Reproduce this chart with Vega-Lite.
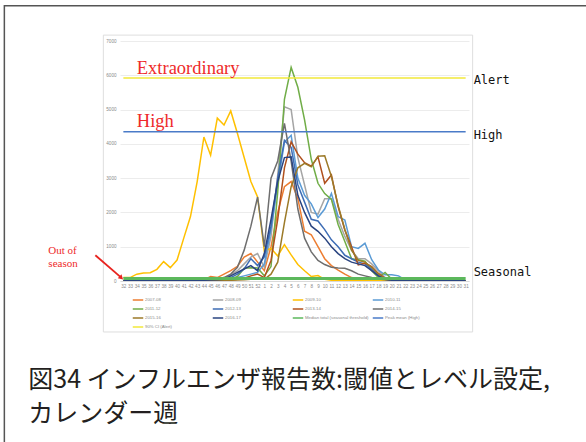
{
"$schema": "https://vega.github.io/schema/vega-lite/v6.json",
"autosize": {"type": "none"},
"width": 349, "height": 240,
"padding": {"left": 120, "top": 41, "right": 117, "bottom": 161},
"background": "white",
"config": {"view": {"stroke": null}},
"datasets": {
"seasons": [
{"s":"2007-08","w":32,"v":10},{"s":"2007-08","w":33,"v":10},{"s":"2007-08","w":34,"v":10},{"s":"2007-08","w":35,"v":10},{"s":"2007-08","w":36,"v":10},{"s":"2007-08","w":37,"v":10},{"s":"2007-08","w":38,"v":10},{"s":"2007-08","w":39,"v":10},{"s":"2007-08","w":40,"v":10},{"s":"2007-08","w":41,"v":10},{"s":"2007-08","w":42,"v":15},{"s":"2007-08","w":43,"v":20},{"s":"2007-08","w":44,"v":30},{"s":"2007-08","w":45,"v":130},{"s":"2007-08","w":46,"v":100},{"s":"2007-08","w":47,"v":200},{"s":"2007-08","w":48,"v":300},{"s":"2007-08","w":49,"v":430},{"s":"2007-08","w":50,"v":700},{"s":"2007-08","w":51,"v":800},{"s":"2007-08","w":52,"v":550},{"s":"2007-08","w":1,"v":300},{"s":"2007-08","w":2,"v":1000},{"s":"2007-08","w":3,"v":2000},{"s":"2007-08","w":4,"v":2750},{"s":"2007-08","w":5,"v":2900},{"s":"2007-08","w":6,"v":2400},{"s":"2007-08","w":7,"v":1450},{"s":"2007-08","w":8,"v":1350},{"s":"2007-08","w":9,"v":1000},{"s":"2007-08","w":10,"v":650},{"s":"2007-08","w":11,"v":450},{"s":"2007-08","w":12,"v":320},{"s":"2007-08","w":13,"v":200},{"s":"2007-08","w":14,"v":100},{"s":"2007-08","w":15,"v":60},{"s":"2007-08","w":16,"v":40},{"s":"2007-08","w":17,"v":30},{"s":"2007-08","w":18,"v":20},{"s":"2007-08","w":19,"v":15},{"s":"2007-08","w":20,"v":10},{"s":"2007-08","w":21,"v":10},{"s":"2007-08","w":22,"v":10},{"s":"2007-08","w":23,"v":10},{"s":"2007-08","w":24,"v":10},{"s":"2007-08","w":25,"v":10},{"s":"2007-08","w":26,"v":10},{"s":"2007-08","w":27,"v":10},{"s":"2007-08","w":28,"v":10},{"s":"2007-08","w":29,"v":10},{"s":"2007-08","w":30,"v":10},{"s":"2007-08","w":31,"v":10},
{"s":"2008-09","w":32,"v":10},{"s":"2008-09","w":33,"v":10},{"s":"2008-09","w":34,"v":10},{"s":"2008-09","w":35,"v":10},{"s":"2008-09","w":36,"v":10},{"s":"2008-09","w":37,"v":10},{"s":"2008-09","w":38,"v":10},{"s":"2008-09","w":39,"v":10},{"s":"2008-09","w":40,"v":10},{"s":"2008-09","w":41,"v":10},{"s":"2008-09","w":42,"v":10},{"s":"2008-09","w":43,"v":10},{"s":"2008-09","w":44,"v":20},{"s":"2008-09","w":45,"v":30},{"s":"2008-09","w":46,"v":60},{"s":"2008-09","w":47,"v":100},{"s":"2008-09","w":48,"v":180},{"s":"2008-09","w":49,"v":300},{"s":"2008-09","w":50,"v":500},{"s":"2008-09","w":51,"v":700},{"s":"2008-09","w":52,"v":800},{"s":"2008-09","w":1,"v":400},{"s":"2008-09","w":2,"v":1300},{"s":"2008-09","w":3,"v":3100},{"s":"2008-09","w":4,"v":5080},{"s":"2008-09","w":5,"v":5000},{"s":"2008-09","w":6,"v":3600},{"s":"2008-09","w":7,"v":2800},{"s":"2008-09","w":8,"v":2000},{"s":"2008-09","w":9,"v":1950},{"s":"2008-09","w":10,"v":2400},{"s":"2008-09","w":11,"v":2400},{"s":"2008-09","w":12,"v":1800},{"s":"2008-09","w":13,"v":1300},{"s":"2008-09","w":14,"v":900},{"s":"2008-09","w":15,"v":650},{"s":"2008-09","w":16,"v":650},{"s":"2008-09","w":17,"v":500},{"s":"2008-09","w":18,"v":300},{"s":"2008-09","w":19,"v":100},{"s":"2008-09","w":20,"v":50},{"s":"2008-09","w":21,"v":20},{"s":"2008-09","w":22,"v":10},{"s":"2008-09","w":23,"v":10},{"s":"2008-09","w":24,"v":10},{"s":"2008-09","w":25,"v":10},{"s":"2008-09","w":26,"v":10},{"s":"2008-09","w":27,"v":10},{"s":"2008-09","w":28,"v":10},{"s":"2008-09","w":29,"v":10},{"s":"2008-09","w":30,"v":10},{"s":"2008-09","w":31,"v":10},
{"s":"2009-10","w":32,"v":100},{"s":"2009-10","w":33,"v":100},{"s":"2009-10","w":34,"v":200},{"s":"2009-10","w":35,"v":230},{"s":"2009-10","w":36,"v":240},{"s":"2009-10","w":37,"v":340},{"s":"2009-10","w":38,"v":565},{"s":"2009-10","w":39,"v":390},{"s":"2009-10","w":40,"v":610},{"s":"2009-10","w":41,"v":1250},{"s":"2009-10","w":42,"v":1880},{"s":"2009-10","w":43,"v":2900},{"s":"2009-10","w":44,"v":4200},{"s":"2009-10","w":45,"v":3670},{"s":"2009-10","w":46,"v":4750},{"s":"2009-10","w":47,"v":4550},{"s":"2009-10","w":48,"v":4960},{"s":"2009-10","w":49,"v":4300},{"s":"2009-10","w":50,"v":3600},{"s":"2009-10","w":51,"v":2900},{"s":"2009-10","w":52,"v":2450},{"s":"2009-10","w":1,"v":870},{"s":"2009-10","w":2,"v":950},{"s":"2009-10","w":3,"v":730},{"s":"2009-10","w":4,"v":1060},{"s":"2009-10","w":5,"v":760},{"s":"2009-10","w":6,"v":480},{"s":"2009-10","w":7,"v":300},{"s":"2009-10","w":8,"v":130},{"s":"2009-10","w":9,"v":160},{"s":"2009-10","w":10,"v":50},{"s":"2009-10","w":11,"v":20},{"s":"2009-10","w":12,"v":10},{"s":"2009-10","w":13,"v":10},{"s":"2009-10","w":14,"v":10},{"s":"2009-10","w":15,"v":10},{"s":"2009-10","w":16,"v":10},{"s":"2009-10","w":17,"v":10},{"s":"2009-10","w":18,"v":10},{"s":"2009-10","w":19,"v":10},{"s":"2009-10","w":20,"v":10},{"s":"2009-10","w":21,"v":10},{"s":"2009-10","w":22,"v":10},{"s":"2009-10","w":23,"v":10},{"s":"2009-10","w":24,"v":10},{"s":"2009-10","w":25,"v":10},{"s":"2009-10","w":26,"v":10},{"s":"2009-10","w":27,"v":10},{"s":"2009-10","w":28,"v":10},{"s":"2009-10","w":29,"v":10},{"s":"2009-10","w":30,"v":10},{"s":"2009-10","w":31,"v":10},
{"s":"2010-11","w":32,"v":10},{"s":"2010-11","w":33,"v":10},{"s":"2010-11","w":34,"v":10},{"s":"2010-11","w":35,"v":10},{"s":"2010-11","w":36,"v":10},{"s":"2010-11","w":37,"v":10},{"s":"2010-11","w":38,"v":10},{"s":"2010-11","w":39,"v":10},{"s":"2010-11","w":40,"v":10},{"s":"2010-11","w":41,"v":10},{"s":"2010-11","w":42,"v":10},{"s":"2010-11","w":43,"v":10},{"s":"2010-11","w":44,"v":10},{"s":"2010-11","w":45,"v":20},{"s":"2010-11","w":46,"v":30},{"s":"2010-11","w":47,"v":40},{"s":"2010-11","w":48,"v":50},{"s":"2010-11","w":49,"v":100},{"s":"2010-11","w":50,"v":150},{"s":"2010-11","w":51,"v":200},{"s":"2010-11","w":52,"v":250},{"s":"2010-11","w":1,"v":500},{"s":"2010-11","w":2,"v":1500},{"s":"2010-11","w":3,"v":2800},{"s":"2010-11","w":4,"v":4050},{"s":"2010-11","w":5,"v":4250},{"s":"2010-11","w":6,"v":3000},{"s":"2010-11","w":7,"v":2500},{"s":"2010-11","w":8,"v":2250},{"s":"2010-11","w":9,"v":1850},{"s":"2010-11","w":10,"v":2100},{"s":"2010-11","w":11,"v":2550},{"s":"2010-11","w":12,"v":1880},{"s":"2010-11","w":13,"v":1780},{"s":"2010-11","w":14,"v":1000},{"s":"2010-11","w":15,"v":950},{"s":"2010-11","w":16,"v":1100},{"s":"2010-11","w":17,"v":620},{"s":"2010-11","w":18,"v":320},{"s":"2010-11","w":19,"v":180},{"s":"2010-11","w":20,"v":180},{"s":"2010-11","w":21,"v":150},{"s":"2010-11","w":22,"v":30},{"s":"2010-11","w":23,"v":10},{"s":"2010-11","w":24,"v":10},{"s":"2010-11","w":25,"v":10},{"s":"2010-11","w":26,"v":10},{"s":"2010-11","w":27,"v":10},{"s":"2010-11","w":28,"v":10},{"s":"2010-11","w":29,"v":10},{"s":"2010-11","w":30,"v":10},{"s":"2010-11","w":31,"v":10},
{"s":"2011-12","w":32,"v":10},{"s":"2011-12","w":33,"v":10},{"s":"2011-12","w":34,"v":10},{"s":"2011-12","w":35,"v":10},{"s":"2011-12","w":36,"v":10},{"s":"2011-12","w":37,"v":10},{"s":"2011-12","w":38,"v":10},{"s":"2011-12","w":39,"v":10},{"s":"2011-12","w":40,"v":10},{"s":"2011-12","w":41,"v":10},{"s":"2011-12","w":42,"v":10},{"s":"2011-12","w":43,"v":10},{"s":"2011-12","w":44,"v":10},{"s":"2011-12","w":45,"v":10},{"s":"2011-12","w":46,"v":20},{"s":"2011-12","w":47,"v":40},{"s":"2011-12","w":48,"v":60},{"s":"2011-12","w":49,"v":130},{"s":"2011-12","w":50,"v":370},{"s":"2011-12","w":51,"v":390},{"s":"2011-12","w":52,"v":380},{"s":"2011-12","w":1,"v":150},{"s":"2011-12","w":2,"v":420},{"s":"2011-12","w":3,"v":2600},{"s":"2011-12","w":4,"v":5300},{"s":"2011-12","w":5,"v":6230},{"s":"2011-12","w":6,"v":5650},{"s":"2011-12","w":7,"v":4700},{"s":"2011-12","w":8,"v":3550},{"s":"2011-12","w":9,"v":2850},{"s":"2011-12","w":10,"v":2550},{"s":"2011-12","w":11,"v":2380},{"s":"2011-12","w":12,"v":1650},{"s":"2011-12","w":13,"v":1150},{"s":"2011-12","w":14,"v":650},{"s":"2011-12","w":15,"v":620},{"s":"2011-12","w":16,"v":580},{"s":"2011-12","w":17,"v":300},{"s":"2011-12","w":18,"v":100},{"s":"2011-12","w":19,"v":250},{"s":"2011-12","w":20,"v":50},{"s":"2011-12","w":21,"v":20},{"s":"2011-12","w":22,"v":10},{"s":"2011-12","w":23,"v":10},{"s":"2011-12","w":24,"v":10},{"s":"2011-12","w":25,"v":10},{"s":"2011-12","w":26,"v":10},{"s":"2011-12","w":27,"v":10},{"s":"2011-12","w":28,"v":10},{"s":"2011-12","w":29,"v":10},{"s":"2011-12","w":30,"v":10},{"s":"2011-12","w":31,"v":10},
{"s":"2012-13","w":32,"v":10},{"s":"2012-13","w":33,"v":10},{"s":"2012-13","w":34,"v":10},{"s":"2012-13","w":35,"v":10},{"s":"2012-13","w":36,"v":10},{"s":"2012-13","w":37,"v":10},{"s":"2012-13","w":38,"v":10},{"s":"2012-13","w":39,"v":10},{"s":"2012-13","w":40,"v":10},{"s":"2012-13","w":41,"v":10},{"s":"2012-13","w":42,"v":10},{"s":"2012-13","w":43,"v":10},{"s":"2012-13","w":44,"v":20},{"s":"2012-13","w":45,"v":30},{"s":"2012-13","w":46,"v":50},{"s":"2012-13","w":47,"v":70},{"s":"2012-13","w":48,"v":100},{"s":"2012-13","w":49,"v":200},{"s":"2012-13","w":50,"v":350},{"s":"2012-13","w":51,"v":650},{"s":"2012-13","w":52,"v":450},{"s":"2012-13","w":1,"v":700},{"s":"2012-13","w":2,"v":1600},{"s":"2012-13","w":3,"v":3000},{"s":"2012-13","w":4,"v":4100},{"s":"2012-13","w":5,"v":3900},{"s":"2012-13","w":6,"v":2800},{"s":"2012-13","w":7,"v":2300},{"s":"2012-13","w":8,"v":1800},{"s":"2012-13","w":9,"v":1750},{"s":"2012-13","w":10,"v":1500},{"s":"2012-13","w":11,"v":1200},{"s":"2012-13","w":12,"v":1000},{"s":"2012-13","w":13,"v":750},{"s":"2012-13","w":14,"v":650},{"s":"2012-13","w":15,"v":550},{"s":"2012-13","w":16,"v":500},{"s":"2012-13","w":17,"v":350},{"s":"2012-13","w":18,"v":150},{"s":"2012-13","w":19,"v":60},{"s":"2012-13","w":20,"v":30},{"s":"2012-13","w":21,"v":10},{"s":"2012-13","w":22,"v":10},{"s":"2012-13","w":23,"v":10},{"s":"2012-13","w":24,"v":10},{"s":"2012-13","w":25,"v":10},{"s":"2012-13","w":26,"v":10},{"s":"2012-13","w":27,"v":10},{"s":"2012-13","w":28,"v":10},{"s":"2012-13","w":29,"v":10},{"s":"2012-13","w":30,"v":10},{"s":"2012-13","w":31,"v":10},
{"s":"2013-14","w":32,"v":10},{"s":"2013-14","w":33,"v":10},{"s":"2013-14","w":34,"v":10},{"s":"2013-14","w":35,"v":10},{"s":"2013-14","w":36,"v":10},{"s":"2013-14","w":37,"v":10},{"s":"2013-14","w":38,"v":10},{"s":"2013-14","w":39,"v":10},{"s":"2013-14","w":40,"v":10},{"s":"2013-14","w":41,"v":10},{"s":"2013-14","w":42,"v":10},{"s":"2013-14","w":43,"v":10},{"s":"2013-14","w":44,"v":10},{"s":"2013-14","w":45,"v":10},{"s":"2013-14","w":46,"v":15},{"s":"2013-14","w":47,"v":20},{"s":"2013-14","w":48,"v":30},{"s":"2013-14","w":49,"v":50},{"s":"2013-14","w":50,"v":80},{"s":"2013-14","w":51,"v":150},{"s":"2013-14","w":52,"v":200},{"s":"2013-14","w":1,"v":100},{"s":"2013-14","w":2,"v":600},{"s":"2013-14","w":3,"v":1800},{"s":"2013-14","w":4,"v":3300},{"s":"2013-14","w":5,"v":4060},{"s":"2013-14","w":6,"v":3700},{"s":"2013-14","w":7,"v":3450},{"s":"2013-14","w":8,"v":3350},{"s":"2013-14","w":9,"v":3620},{"s":"2013-14","w":10,"v":2850},{"s":"2013-14","w":11,"v":3090},{"s":"2013-14","w":12,"v":2170},{"s":"2013-14","w":13,"v":1490},{"s":"2013-14","w":14,"v":1000},{"s":"2013-14","w":15,"v":470},{"s":"2013-14","w":16,"v":520},{"s":"2013-14","w":17,"v":420},{"s":"2013-14","w":18,"v":220},{"s":"2013-14","w":19,"v":80},{"s":"2013-14","w":20,"v":30},{"s":"2013-14","w":21,"v":10},{"s":"2013-14","w":22,"v":10},{"s":"2013-14","w":23,"v":10},{"s":"2013-14","w":24,"v":10},{"s":"2013-14","w":25,"v":10},{"s":"2013-14","w":26,"v":10},{"s":"2013-14","w":27,"v":10},{"s":"2013-14","w":28,"v":10},{"s":"2013-14","w":29,"v":10},{"s":"2013-14","w":30,"v":10},{"s":"2013-14","w":31,"v":10},
{"s":"2014-15","w":32,"v":10},{"s":"2014-15","w":33,"v":10},{"s":"2014-15","w":34,"v":10},{"s":"2014-15","w":35,"v":10},{"s":"2014-15","w":36,"v":10},{"s":"2014-15","w":37,"v":10},{"s":"2014-15","w":38,"v":10},{"s":"2014-15","w":39,"v":10},{"s":"2014-15","w":40,"v":10},{"s":"2014-15","w":41,"v":10},{"s":"2014-15","w":42,"v":10},{"s":"2014-15","w":43,"v":10},{"s":"2014-15","w":44,"v":20},{"s":"2014-15","w":45,"v":30},{"s":"2014-15","w":46,"v":50},{"s":"2014-15","w":47,"v":100},{"s":"2014-15","w":48,"v":200},{"s":"2014-15","w":49,"v":400},{"s":"2014-15","w":50,"v":900},{"s":"2014-15","w":51,"v":1600},{"s":"2014-15","w":52,"v":2450},{"s":"2014-15","w":1,"v":1000},{"s":"2014-15","w":2,"v":3000},{"s":"2014-15","w":3,"v":3500},{"s":"2014-15","w":4,"v":4600},{"s":"2014-15","w":5,"v":3500},{"s":"2014-15","w":6,"v":2100},{"s":"2014-15","w":7,"v":1250},{"s":"2014-15","w":8,"v":850},{"s":"2014-15","w":9,"v":600},{"s":"2014-15","w":10,"v":480},{"s":"2014-15","w":11,"v":400},{"s":"2014-15","w":12,"v":380},{"s":"2014-15","w":13,"v":370},{"s":"2014-15","w":14,"v":300},{"s":"2014-15","w":15,"v":200},{"s":"2014-15","w":16,"v":150},{"s":"2014-15","w":17,"v":100},{"s":"2014-15","w":18,"v":60},{"s":"2014-15","w":19,"v":40},{"s":"2014-15","w":20,"v":20},{"s":"2014-15","w":21,"v":10},{"s":"2014-15","w":22,"v":10},{"s":"2014-15","w":23,"v":10},{"s":"2014-15","w":24,"v":10},{"s":"2014-15","w":25,"v":10},{"s":"2014-15","w":26,"v":10},{"s":"2014-15","w":27,"v":10},{"s":"2014-15","w":28,"v":10},{"s":"2014-15","w":29,"v":10},{"s":"2014-15","w":30,"v":10},{"s":"2014-15","w":31,"v":10},
{"s":"2015-16","w":32,"v":10},{"s":"2015-16","w":33,"v":10},{"s":"2015-16","w":34,"v":10},{"s":"2015-16","w":35,"v":10},{"s":"2015-16","w":36,"v":10},{"s":"2015-16","w":37,"v":10},{"s":"2015-16","w":38,"v":10},{"s":"2015-16","w":39,"v":10},{"s":"2015-16","w":40,"v":10},{"s":"2015-16","w":41,"v":10},{"s":"2015-16","w":42,"v":10},{"s":"2015-16","w":43,"v":10},{"s":"2015-16","w":44,"v":10},{"s":"2015-16","w":45,"v":10},{"s":"2015-16","w":46,"v":10},{"s":"2015-16","w":47,"v":15},{"s":"2015-16","w":48,"v":20},{"s":"2015-16","w":49,"v":30},{"s":"2015-16","w":50,"v":40},{"s":"2015-16","w":51,"v":50},{"s":"2015-16","w":52,"v":50},{"s":"2015-16","w":1,"v":50},{"s":"2015-16","w":2,"v":200},{"s":"2015-16","w":3,"v":550},{"s":"2015-16","w":4,"v":1700},{"s":"2015-16","w":5,"v":2750},{"s":"2015-16","w":6,"v":3300},{"s":"2015-16","w":7,"v":3430},{"s":"2015-16","w":8,"v":3330},{"s":"2015-16","w":9,"v":3640},{"s":"2015-16","w":10,"v":3650},{"s":"2015-16","w":11,"v":3050},{"s":"2015-16","w":12,"v":2200},{"s":"2015-16","w":13,"v":1500},{"s":"2015-16","w":14,"v":900},{"s":"2015-16","w":15,"v":600},{"s":"2015-16","w":16,"v":550},{"s":"2015-16","w":17,"v":400},{"s":"2015-16","w":18,"v":200},{"s":"2015-16","w":19,"v":50},{"s":"2015-16","w":20,"v":20},{"s":"2015-16","w":21,"v":10},{"s":"2015-16","w":22,"v":10},{"s":"2015-16","w":23,"v":10},{"s":"2015-16","w":24,"v":10},{"s":"2015-16","w":25,"v":10},{"s":"2015-16","w":26,"v":10},{"s":"2015-16","w":27,"v":10},{"s":"2015-16","w":28,"v":10},{"s":"2015-16","w":29,"v":10},{"s":"2015-16","w":30,"v":10},{"s":"2015-16","w":31,"v":10},
{"s":"2016-17","w":32,"v":10},{"s":"2016-17","w":33,"v":10},{"s":"2016-17","w":34,"v":10},{"s":"2016-17","w":35,"v":10},{"s":"2016-17","w":36,"v":10},{"s":"2016-17","w":37,"v":10},{"s":"2016-17","w":38,"v":10},{"s":"2016-17","w":39,"v":10},{"s":"2016-17","w":40,"v":10},{"s":"2016-17","w":41,"v":10},{"s":"2016-17","w":42,"v":10},{"s":"2016-17","w":43,"v":10},{"s":"2016-17","w":44,"v":20},{"s":"2016-17","w":45,"v":30},{"s":"2016-17","w":46,"v":40},{"s":"2016-17","w":47,"v":50},{"s":"2016-17","w":48,"v":150},{"s":"2016-17","w":49,"v":250},{"s":"2016-17","w":50,"v":350},{"s":"2016-17","w":51,"v":450},{"s":"2016-17","w":52,"v":300},{"s":"2016-17","w":1,"v":800},{"s":"2016-17","w":2,"v":1800},{"s":"2016-17","w":3,"v":2900},{"s":"2016-17","w":4,"v":3600},{"s":"2016-17","w":5,"v":3620},{"s":"2016-17","w":6,"v":2500},{"s":"2016-17","w":7,"v":2000},{"s":"2016-17","w":8,"v":1600},{"s":"2016-17","w":9,"v":1450},{"s":"2016-17","w":10,"v":1250},{"s":"2016-17","w":11,"v":1000},{"s":"2016-17","w":12,"v":800},{"s":"2016-17","w":13,"v":650},{"s":"2016-17","w":14,"v":550},{"s":"2016-17","w":15,"v":500},{"s":"2016-17","w":16,"v":450},{"s":"2016-17","w":17,"v":300},{"s":"2016-17","w":18,"v":150},{"s":"2016-17","w":19,"v":50},{"s":"2016-17","w":20,"v":20},{"s":"2016-17","w":21,"v":10},{"s":"2016-17","w":22,"v":10},{"s":"2016-17","w":23,"v":10},{"s":"2016-17","w":24,"v":10},{"s":"2016-17","w":25,"v":10},{"s":"2016-17","w":26,"v":10},{"s":"2016-17","w":27,"v":10},{"s":"2016-17","w":28,"v":10},{"s":"2016-17","w":29,"v":10},{"s":"2016-17","w":30,"v":10},{"s":"2016-17","w":31,"v":10}
],
"thresholds": [
{"s":"Peak mean (High)","v":4350},
{"s":"90% CI (Alert)","v":5920}
],
"median": [
{"s":"Median total (seasonal threshold)","v":70}
],
"levelLabels": [
{"t":"Alert","w":31,"v":5850},
{"t":"High","w":31,"v":4270},
{"t":"Seasonal","w":31,"v":270}
],
"redLabels": [
{"t":"Extraordinary","w":34,"v":6026},
{"t":"High","w":34,"v":4500}
],
"outLabel": [
{"t":["Out of","season"],"w":32,"v":787}
],
"caption": [
{"t":"図34 インフルエンザ報告数:閾値とレベル設定,","w":32,"v":-2530},
{"t":"カレンダー週","w":32,"v":-3540}
]
},
"encoding": {
"x": {"field": "w", "type": "ordinal", "scale": {"type": "point", "padding": 0.5, "domain": [32,33,34,35,36,37,38,39,40,41,42,43,44,45,46,47,48,49,50,51,52,1,2,3,4,5,6,7,8,9,10,11,12,13,14,15,16,17,18,19,20,21,22,23,24,25,26,27,28,29,30,31]},
  "axis": {"title": null, "labelAngle": 0, "labelFontSize": 4.6, "labelColor": "#8a8a8a", "labelOverlap": false, "labelPadding": 2, "ticks": false, "domainColor": "#d9d9d9", "grid": false}},
"y": {"field": "v", "type": "quantitative", "scale": {"domain": [0, 7000]},
  "axis": {"title": null, "values": [0,1000,2000,3000,4000,5000,6000,7000], "format": "d", "labelFontSize": 4.6, "labelColor": "#8a8a8a", "labelPadding": 4, "ticks": false, "domain": false, "gridColor": "#ececec", "gridWidth": 1}}
},
"layer": [
{"data": {"name": "median"}, "mark": {"type": "rect", "filled": false, "stroke": "#dedede", "strokeWidth": 1, "xOffset": -20, "x2Offset": 7},
 "encoding": {"x": {"datum": 32}, "x2": {"datum": 31}, "y": {"datum": 7172}, "y2": {"datum": -1487}}},
{"data": {"name": "median"}, "mark": {"type": "rect", "filled": false, "stroke": "#555555", "strokeWidth": 1.5, "xOffset": -119, "x2Offset": 140},
 "encoding": {"x": {"datum": 32}, "x2": {"datum": 31}, "y": {"datum": 8030}, "y2": {"datum": -6000}}},
{"data": {"name": "seasons"}, "mark": {"type": "line", "strokeWidth": 1.5},
 "encoding": {"color": {"field": "s", "type": "nominal", "sort": null,
   "scale": {"domain": ["2007-08","2008-09","2009-10","2010-11","2011-12","2012-13","2013-14","2014-15","2015-16","2016-17","Median total (seasonal threshold)","Peak mean (High)","90% CI (Alert)"],
     "range": ["#ED7D31","#A5A5A5","#FFC000","#5B9BD5","#70AD47","#3E6DB5","#B0501D","#6E6E6E","#9C7A28","#2A4480","#5CB85C","#4A7BC8","#F2E93A"]},
   "legend": {"title": null, "orient": "none", "direction": "horizontal", "legendX": 12, "legendY": 253, "columns": 4, "gridAlign": "all", "values": ["2007-08","2008-09","2009-10","2010-11","2011-12","2012-13","2013-14","2014-15","2015-16","2016-17","Median total (seasonal threshold)","Peak mean (High)","90% CI (Alert)"], "symbolType": "stroke", "symbolSize": 110, "symbolStrokeWidth": 1.5, "labelFontSize": 4.3, "labelColor": "#8a8a8a", "labelOffset": 1, "labelLimit": 68, "columnPadding": 0, "rowPadding": -1, "padding": 0}}}},
{"data": {"name": "median"}, "mark": {"type": "rule", "strokeWidth": 3},
 "encoding": {"x": {"datum": 32}, "x2": {"datum": 31}, "color": {"field": "s", "type": "nominal", "sort": null,
   "scale": {"domain": ["2007-08","2008-09","2009-10","2010-11","2011-12","2012-13","2013-14","2014-15","2015-16","2016-17","Median total (seasonal threshold)","Peak mean (High)","90% CI (Alert)"],
     "range": ["#ED7D31","#A5A5A5","#FFC000","#5B9BD5","#70AD47","#3E6DB5","#B0501D","#6E6E6E","#9C7A28","#2A4480","#5CB85C","#4A7BC8","#F2E93A"]}}}},
{"data": {"name": "thresholds"}, "mark": {"type": "rule", "strokeWidth": 1.5},
 "encoding": {"x": {"datum": 32}, "x2": {"datum": 31}, "color": {"field": "s", "type": "nominal", "sort": null,
   "scale": {"domain": ["2007-08","2008-09","2009-10","2010-11","2011-12","2012-13","2013-14","2014-15","2015-16","2016-17","Median total (seasonal threshold)","Peak mean (High)","90% CI (Alert)"],
     "range": ["#ED7D31","#A5A5A5","#FFC000","#5B9BD5","#70AD47","#3E6DB5","#B0501D","#6E6E6E","#9C7A28","#2A4480","#5CB85C","#4A7BC8","#F2E93A"]}}}},
{"data": {"name": "levelLabels"}, "mark": {"type": "text", "align": "left", "baseline": "middle", "dx": 8, "font": "DejaVu Sans Mono", "fontSize": 12, "color": "#111111"},
 "encoding": {"text": {"field": "t"}}},
{"data": {"name": "redLabels"}, "mark": {"type": "text", "align": "left", "baseline": "alphabetic", "font": "Liberation Serif", "fontSize": 18.5, "color": "#EE2A2A"},
 "encoding": {"text": {"field": "t"}}},
{"data": {"name": "outLabel"}, "mark": {"type": "text", "align": "left", "baseline": "alphabetic", "dx": -75, "font": "Liberation Serif", "fontSize": 11, "lineHeight": 12.5, "color": "#EE2A2A"},
 "encoding": {"text": {"field": "t"}}},
{"data": {"name": "caption"}, "mark": {"type": "text", "align": "left", "baseline": "top", "dx": -95, "font": "Noto Sans CJK JP", "fontSize": 25, "color": "#231f20"},
 "encoding": {"text": {"field": "t"}}},
{"data": {"name": "median"}, "mark": {"type": "rule", "color": "#E8231F", "strokeWidth": 1.8, "xOffset": -28, "x2Offset": -3},
 "encoding": {"x": {"datum": 32}, "x2": {"datum": 32}, "y": {"datum": 750}, "y2": {"datum": 120}}},
{"data": {"name": "median"}, "mark": {"type": "point", "shape": "triangle-right", "angle": 42, "size": 30, "filled": true, "color": "#E8231F", "opacity": 1, "xOffset": -2},
 "encoding": {"x": {"datum": 32}, "y": {"datum": 90}}}
]
}
